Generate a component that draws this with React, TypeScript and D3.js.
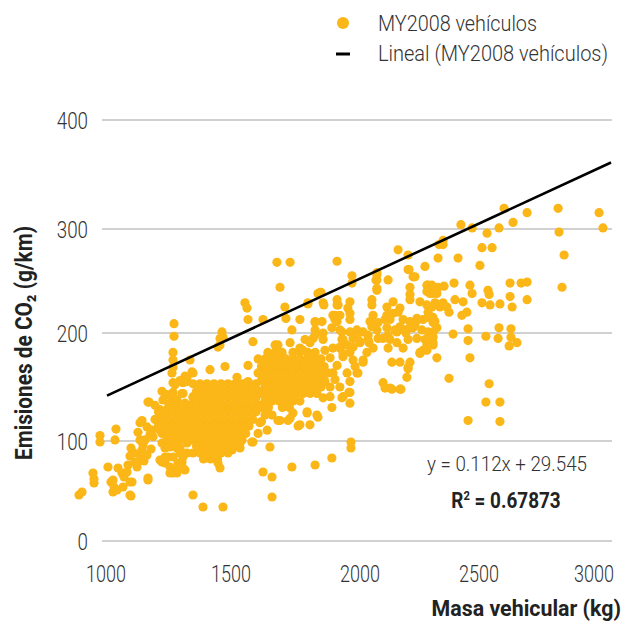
import * as d3 from 'd3';

// [masa vehicular (kg), emisiones CO2 (g/km)]
const compactCars: [number, number][] = [
  [892, 46], [904, 49], [948, 68], [952, 62], [952, 58], [976, 105], [976, 99], [1040, 111], [1036, 101], [1008, 74],
  [1020, 59], [1028, 49], [1044, 51], [1032, 54], [1048, 73], [1064, 68], [1072, 64], [1084, 69], [1088, 76], [1096, 85],
  [1100, 93], [1104, 59], [1100, 45], [1116, 79], [1124, 74], [1136, 86], [1144, 91], [1148, 96], [1164, 86], [1168, 61],
  [1136, 101], [1128, 108], [1136, 117], [1144, 119], [1164, 113], [1172, 136], [1184, 110], [1188, 104], [1204, 119], [1068, 54],
  [1096, 59], [1096, 46], [1028, 61], [1124, 78], [1176, 106], [1156, 101], [1168, 63], [1112, 88], [1152, 80], [1180, 92],
];

const smallCars: [number, number][] = [
  [1216, 110], [1224, 146], [1228, 138], [1244, 129], [1244, 122], [1224, 79], [1236, 78], [1248, 84], [1256, 74], [1268, 68],
  [1276, 71], [1288, 78], [1304, 79], [1308, 73], [1296, 88], [1284, 93], [1268, 98], [1268, 107], [1256, 113], [1248, 98],
  [1236, 93], [1216, 81], [1236, 84], [1224, 98], [1244, 101], [1256, 94], [1268, 84], [1256, 68], [1284, 68], [1296, 74],
  [1316, 71], [1308, 84], [1296, 93], [1284, 103], [1248, 108], [1256, 117], [1228, 119], [1284, 119], [1308, 115], [1304, 106],
  [1324, 98], [1324, 88], [1348, 46], [1388, 34], [1468, 34],
  [1272, 209], [1272, 197], [1268, 182], [1268, 175], [1268, 168], [1264, 163], [1268, 154], [1268, 141], [1284, 131], [1304, 144],
  [1316, 135], [1336, 175], [1344, 164], [1324, 159], [1308, 154], [1324, 126], [1304, 121], [1296, 113], [1316, 160], [1324, 155],
  [1296, 156], [1244, 143], [1168, 136], [1256, 135], [1268, 145], [1284, 138], [1296, 131], [1324, 129], [1348, 141], [1308, 144],
  [1276, 152], [1216, 129], [1348, 163],
  [1196, 133], [1252, 133], [1280, 133], [1308, 133], [1336, 133],
  [1210, 127], [1238, 127], [1266, 127], [1294, 127], [1322, 127],
  [1196, 120], [1224, 120], [1252, 120], [1280, 120], [1308, 120], [1336, 120],
  [1210, 114], [1238, 114], [1266, 114], [1294, 114], [1322, 114],
  [1224, 107], [1252, 107], [1280, 107], [1308, 107], [1336, 107],
  [1266, 101], [1294, 101], [1322, 101],
];

// the dense cloud around 1350-1600 kg
const denseCore: [number, number][] = [
  [1348, 153], [1376, 153], [1404, 153], [1432, 153], [1460, 153], [1488, 153], [1516, 153], [1543, 153], [1570, 153], [1597, 153],
  [1362, 146], [1390, 146], [1418, 146], [1446, 146], [1474, 146], [1502, 146], [1530, 146], [1557, 146], [1584, 146], [1611, 146],
  [1348, 140], [1376, 140], [1404, 140], [1432, 140], [1460, 140], [1488, 140], [1516, 140], [1543, 140], [1570, 140], [1597, 140],
  [1362, 133], [1390, 133], [1418, 133], [1446, 133], [1474, 133], [1502, 133], [1530, 133], [1557, 133], [1584, 133], [1611, 133],
  [1348, 127], [1376, 127], [1404, 127], [1432, 127], [1460, 127], [1488, 127], [1516, 127], [1543, 127], [1570, 127], [1597, 127],
  [1362, 120], [1390, 120], [1418, 120], [1446, 120], [1474, 120], [1502, 120], [1530, 120], [1557, 120], [1584, 120],
  [1348, 114], [1376, 114], [1404, 114], [1432, 114], [1460, 114], [1488, 114], [1516, 114], [1543, 114], [1570, 114],
  [1362, 107], [1390, 107], [1418, 107], [1446, 107], [1474, 107], [1502, 107], [1530, 107], [1557, 107],
  [1348, 101], [1376, 101], [1404, 101], [1432, 101], [1460, 101], [1488, 101], [1516, 101], [1543, 101],
  [1362, 95], [1390, 95], [1418, 95], [1446, 95], [1474, 95], [1502, 95],
  [1348, 88], [1376, 88], [1404, 88], [1432, 88], [1460, 88], [1488, 88],
  [1390, 82], [1418, 82], [1446, 82],
];

const midCars: [number, number][] = [
  [1643, 182], [1671, 182], [1698, 182], [1740, 182], [1767, 182], [1798, 182], [1826, 182],
  [1605, 176], [1632, 176], [1659, 176], [1686, 176], [1713, 176], [1740, 176], [1767, 176], [1795, 176], [1822, 176], [1849, 176],
  [1618, 169], [1645, 169], [1672, 169], [1699, 169], [1726, 169], [1753, 169], [1780, 169], [1807, 169], [1834, 169], [1861, 169],
  [1605, 163], [1632, 163], [1659, 163], [1686, 163], [1713, 163], [1740, 163], [1767, 163], [1795, 163], [1822, 163], [1849, 163], [1876, 163],
  [1618, 156], [1645, 156], [1672, 156], [1699, 156], [1726, 156], [1753, 156], [1780, 156], [1807, 156], [1834, 156], [1861, 156],
  [1632, 150], [1659, 150], [1686, 150], [1713, 150], [1740, 150], [1767, 150], [1795, 150], [1822, 150], [1849, 150],
  [1618, 144], [1645, 144], [1672, 144], [1699, 144], [1726, 144], [1753, 144], [1780, 144], [1807, 144],
  [1632, 137], [1659, 137], [1686, 137], [1713, 137], [1740, 137], [1767, 137],
  [1618, 131], [1645, 131], [1699, 131], [1726, 131],
  [1632, 124], [1659, 124], [1618, 118],
  [1884, 150], [1903, 157], [1911, 170], [1922, 186], [1895, 186], [1864, 184],
];

const largeCars: [number, number][] = [
  [1911, 269], [1969, 255], [1969, 248], [2071, 256], [2071, 251], [2071, 241], [2118, 251], [1845, 239], [2160, 280], [2202, 275],
  [2202, 261], [2223, 254], [2273, 264], [2210, 244], [2210, 237], [2286, 246], [2302, 241], [2328, 244], [2294, 238], [2323, 238],
  [1857, 229], [1911, 232], [1915, 227], [1961, 230], [1953, 224], [2050, 232], [2050, 227], [2113, 225], [2139, 230], [2168, 224],
  [2210, 232], [2252, 230], [2281, 227], [2315, 229], [2336, 225],
  [1903, 217], [1911, 211], [1961, 219], [1961, 213], [2055, 217], [2042, 211], [2113, 217], [2139, 219], [2160, 220], [2126, 213],
  [2181, 213], [2210, 211], [2239, 214], [2265, 213], [2286, 215], [2315, 211],
  [1826, 211], [1853, 211], [1826, 203], [1857, 200], [1930, 201], [1961, 201], [1988, 203], [2013, 201], [2071, 203], [2113, 205],
  [2155, 201], [2189, 203], [2223, 205], [2260, 203], [2286, 201], [2323, 205],
  [1818, 195], [1857, 194], [1930, 194], [1973, 195], [2034, 194], [2076, 195], [2126, 194], [2155, 191], [2202, 194], [2239, 195],
  [2273, 194], [2307, 191],
  [1922, 187], [1950, 189], [2000, 192], [2055, 186], [2118, 186], [2181, 186], [2252, 182], [2281, 184],
  [1806, 178], [1845, 173], [1884, 177], [1934, 178], [1973, 175], [2013, 175], [2134, 173], [2202, 168], [2323, 177],
  [1806, 163], [1857, 166], [1895, 163], [1950, 163], [1988, 163], [1961, 155], [2197, 159],
  [1818, 155], [1864, 155], [1922, 150], [1961, 145], [2097, 154], [2126, 149], [2168, 148],
  [1833, 144], [1884, 141], [1934, 141],
  [2281, 246], [2302, 246], [2281, 240], [2307, 238], [2328, 227], [2302, 225], [2286, 220], [2307, 215], [2307, 210], [2307, 201],
  [2307, 196], [2307, 189], [2281, 189], [2265, 184], [2252, 181],
  [2244, 213], [2231, 208], [2210, 205], [2193, 200], [2168, 206], [2147, 203], [2118, 198], [2097, 195], [2105, 213], [2076, 210],
  [2050, 206], [2034, 198], [2038, 191], [2029, 182], [2000, 191], [1988, 196], [1973, 187], [1961, 182], [1934, 181], [1922, 203],
  [1934, 194], [1903, 213], [1891, 205], [1922, 217],
  [2105, 149], [2134, 148], [2172, 148], [2202, 167], [2210, 173], [2168, 173],
  [2013, 173], [1992, 163], [1981, 169], [1957, 145], [1930, 140], [1961, 135], [1891, 131], [1857, 140], [1837, 122], [1795, 127],
  [2206, 261], [2231, 254], [2067, 251], [2071, 243], [2071, 258], [1849, 239], [1798, 228], [1860, 227], [1911, 227], [1895, 217],
];

const suvs: [number, number][] = [
  [2609, 319], [2709, 315], [2844, 319], [3022, 315], [3039, 301], [2848, 297], [2870, 275], [2861, 244],
  [2648, 306], [2587, 301], [2535, 296], [2471, 301], [2424, 304],
  [2513, 282], [2557, 282], [2504, 265], [2412, 272],
  [2349, 289], [2332, 285], [2349, 285], [2328, 272],
  [2635, 248], [2683, 248], [2709, 249], [2462, 246], [2471, 238],
  [2539, 241], [2544, 237], [2513, 229], [2548, 227], [2591, 228], [2635, 235], [2644, 225], [2709, 232],
  [2587, 205], [2583, 195], [2639, 204], [2639, 196], [2631, 188], [2665, 191], [2530, 197],
  [2454, 204], [2454, 193], [2462, 177], [2391, 199],
  [2374, 158], [2544, 153], [2530, 136], [2591, 136], [2454, 119], [2591, 118],
  [2395, 248], [2353, 245], [2399, 232], [2433, 230], [2449, 220], [2428, 217], [2374, 220], [2365, 225], [2349, 229],
];

const upperPoints: [number, number][] = [
  [1678, 268], [1729, 268], [1690, 244], [1709, 225], [1713, 214], [1554, 229], [1562, 224], [1566, 213], [1624, 213], [1736, 203],
  [1767, 213], [1798, 229], [1837, 238], [1826, 210], [1585, 192], [1464, 201], [1468, 196], [1448, 187], [1476, 169], [1416, 166],
  [1523, 159], [1566, 170], [1566, 155], [1671, 189], [1682, 189], [1729, 191], [1767, 186], [1787, 194], [1806, 191],
  [1826, 198], [1779, 184], [1456, 189], [1456, 195],
];

const lowerPoints: [number, number][] = [
  [1826, 76], [1891, 83], [1965, 99], [1965, 93], [1736, 74], [1651, 94], [1624, 69], [1659, 64], [1659, 44], [1585, 99],
  [1605, 107], [1640, 110], [1612, 117], [1690, 119], [1721, 119], [1760, 114], [1795, 126], [1740, 126], [1682, 119], [1729, 121],
  [1833, 124], [1535, 98], [1535, 93], [1504, 91], [1581, 99], [1456, 73], [1448, 78], [1496, 91], [1767, 115], [1806, 115],
];

const xTicks = [1000, 1500, 2000, 2500, 3000];
const yTicks = [0, 100, 200, 300, 400];
const trendMass = [1004, 3074];
const trendCo2 = [142, 361];

const seriesName = 'MY2008 vehículos';
const trendName = 'Lineal (MY2008 vehículos)';
const equation = 'y = 0.112x + 29.545';
const r2 = '0.67873';
const xTitle = 'Masa vehicular (kg)';
const yTitle = 'Emisiones de CO₂ (g/km)';

const YELLOW = '#fbb617';
const FONT = "Roboto, 'Liberation Sans', Arial, sans-serif";

export default function App() {
  const width = 633;
  const height = 627;

  // tick positions in the reference are not evenly spaced, so piecewise scales
  const x = d3.scaleLinear().domain(xTicks).range([106, 231, 360, 479, 594]);
  const y = d3.scaleLinear().domain(yTicks).range([541, 441, 333, 229, 120]);

  const points = [
    ...compactCars, ...smallCars, ...denseCore, ...midCars,
    ...largeCars, ...suvs, ...upperPoints, ...lowerPoints,
  ];

  const trend = d3.line<number>()
    .x(d => x(d))
    .y((d, i) => y(trendCo2[i]))(trendMass);

  return (
    <svg width={width} height={height}
      style={{ position: 'absolute', left: 0, top: 0, display: 'block', background: '#fff' }}
      fontFamily={FONT}>
      {/* gridlines */}
      {yTicks.map(t => (
        <line key={'g' + t} x1={102} x2={612} y1={y(t)} y2={y(t)} stroke="#a3a3a3" strokeWidth={1.2} />
      ))}
      {yTicks.map(t => (
        <text key={'yl' + t} x={88} y={y(t)} dy="0.36em" textAnchor="end" fontSize={24} fontWeight={300}
          fill="#333" textLength={String(t).length * 10.4} lengthAdjust="spacingAndGlyphs">{t}</text>
      ))}
      {xTicks.map(t => (
        <text key={'xl' + t} x={x(t)} y={582} textAnchor="middle" fontSize={24} fontWeight={300}
          fill="#333" textLength={40} lengthAdjust="spacingAndGlyphs">{t}</text>
      ))}

      {/* scatter */}
      <g fill={YELLOW}>
        {points.map((p, i) => (
          <circle key={i} cx={x(p[0])} cy={y(p[1])} r={4.6} />
        ))}
      </g>

      {/* trendline */}
      <path d={trend ?? ''} stroke="#000" strokeWidth={2.6} fill="none" />

      {/* equation */}
      <text x={507} y={471} textAnchor="middle" fontSize={20} fontWeight={300} fill="#333"
        textLength={160} lengthAdjust="spacingAndGlyphs">{equation}</text>
      <text transform="translate(506,508) scale(0.86,1)" textAnchor="middle" fontSize={22} fontWeight={700} fill="#222">
        R<tspan dy={-8} fontSize={13}>2</tspan><tspan dy={8}>{' = ' + r2}</tspan>
      </text>

      {/* axis titles */}
      <text transform="translate(621,616) scale(0.93,1)" textAnchor="end" fontSize={23} fontWeight={700}
        fill="#222">{xTitle}</text>
      <text transform="translate(32,343) rotate(-90)" textAnchor="middle" fontSize={23} fontWeight={700}
        fill="#222" textLength={234} lengthAdjust="spacingAndGlyphs">{yTitle}</text>

      {/* legend */}
      <circle cx={343} cy={23} r={6} fill={YELLOW} />
      <text x={378} y={31} fontSize={22} fontWeight={300} fill="#333"
        textLength={159} lengthAdjust="spacingAndGlyphs">{seriesName}</text>
      <line x1={336} x2={350} y1={54} y2={54} stroke="#000" strokeWidth={3} />
      <text x={378} y={61} fontSize={22} fontWeight={300} fill="#333"
        textLength={230} lengthAdjust="spacingAndGlyphs">{trendName}</text>
    </svg>
  );
}
